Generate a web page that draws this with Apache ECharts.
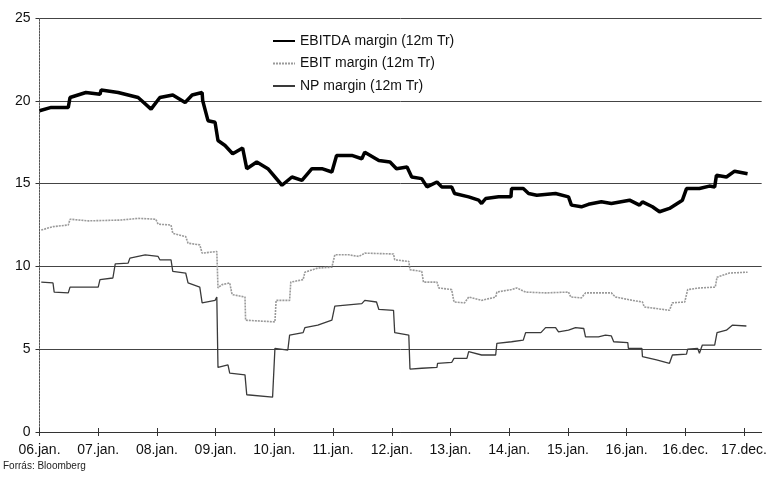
<!DOCTYPE html>
<html>
<head>
<meta charset="utf-8">
<script src="https://cdn.jsdelivr.net/npm/echarts@6/dist/echarts.min.js"></script>
<style>
html,body{margin:0;padding:0;background:#fff;}
#chart{width:770px;height:477px;}
</style>
</head>
<body>
<div id="chart"></div>
<script>
// x positions in years since 06.jan (tick spacing = 1)
const xLabels = ["06.jan.","07.jan.","08.jan.","09.jan.","10.jan.","11.jan.","12.jan.","13.jan.","14.jan.","15.jan.","16.jan.","16.dec.","17.dec."];
const yTicks = [0,5,10,15,20,25];
const seriesNames = ["EBITDA margin (12m Tr)","EBIT margin (12m Tr)","NP margin (12m Tr)"];

const ebitdaX = [0,0.20,0.49,0.52,0.79,1.03,1.05,1.34,1.68,1.90,2.05,2.27,2.48,2.60,2.77,2.78,2.87,2.99,3.04,3.16,3.29,3.46,3.53,3.70,3.89,4.13,4.30,4.47,4.64,4.81,4.98,5.01,5.06,5.32,5.49,5.54,5.78,5.97,6.08,6.26,6.34,6.51,6.60,6.77,6.85,7.02,7.07,7.31,7.48,7.53,7.60,7.82,8.03,8.04,8.24,8.33,8.47,8.79,9.01,9.06,9.23,9.35,9.57,9.74,10.05,10.22,10.27,10.44,10.56,10.73,10.95,11.02,11.24,11.41,11.50,11.53,11.70,11.84,12.06];
const ebitdaY = [19.4,19.6,19.6,20.2,20.5,20.4,20.65,20.5,20.2,19.5,20.2,20.35,19.9,20.35,20.5,20.0,18.8,18.7,17.6,17.3,16.8,17.15,15.9,16.3,15.9,14.9,15.4,15.2,15.9,15.9,15.7,15.6,16.7,16.7,16.5,16.9,16.4,16.3,15.9,16.0,15.4,15.3,14.8,15.1,14.8,14.8,14.4,14.2,14.0,13.8,14.1,14.2,14.2,14.7,14.7,14.4,14.3,14.4,14.2,13.7,13.6,13.75,13.9,13.8,14.0,13.7,13.9,13.6,13.3,13.5,14.0,14.7,14.7,14.85,14.8,15.5,15.4,15.75,15.6];

const ebitX = [0.03,0.23,0.49,0.52,0.83,1.39,1.68,1.98,2.02,2.24,2.27,2.49,2.53,2.73,2.77,3.02,3.04,3.11,3.24,3.28,3.50,3.51,4.01,4.03,4.26,4.28,4.49,4.52,4.74,4.98,5.03,5.27,5.44,5.54,6.03,6.05,6.29,6.31,6.51,6.54,6.77,6.80,7.02,7.06,7.24,7.31,7.53,7.77,7.79,8.04,8.13,8.28,8.62,9.01,9.05,9.23,9.30,9.74,9.81,10.10,10.27,10.30,10.73,10.78,10.99,11.04,11.24,11.51,11.54,11.75,12.06];
const ebitY = [12.2,12.4,12.5,12.85,12.75,12.8,12.9,12.85,12.55,12.5,12.0,11.8,11.4,11.3,10.8,10.9,8.7,8.9,9.0,8.3,8.15,6.75,6.65,7.95,7.95,9.05,9.2,9.65,9.9,9.95,10.7,10.7,10.6,10.8,10.75,10.4,10.3,9.8,9.7,9.05,9.05,8.7,8.6,7.85,7.8,8.15,7.95,8.15,8.45,8.6,8.7,8.45,8.4,8.45,8.15,8.1,8.4,8.4,8.15,7.95,7.85,7.55,7.35,7.8,7.85,8.6,8.7,8.75,9.35,9.6,9.65];

const npX = [0.03,0.23,0.25,0.49,0.52,1.00,1.03,1.25,1.29,1.51,1.54,1.80,2.02,2.05,2.24,2.27,2.49,2.53,2.73,2.77,2.99,3.02,3.04,3.21,3.24,3.50,3.53,3.97,4.01,4.23,4.26,4.49,4.52,4.74,4.98,5.03,5.49,5.54,5.74,5.78,6.03,6.05,6.29,6.31,6.51,6.77,6.78,7.02,7.06,7.28,7.31,7.53,7.77,7.79,8.04,8.24,8.28,8.54,8.62,8.79,8.84,9.01,9.13,9.27,9.30,9.52,9.64,9.74,9.78,10.02,10.03,10.26,10.27,10.51,10.73,10.78,11.02,11.04,11.21,11.24,11.29,11.50,11.54,11.70,11.80,12.04];
const npY = [9.05,9.0,8.45,8.4,8.75,8.75,9.2,9.3,10.15,10.2,10.5,10.7,10.6,10.4,10.4,9.7,9.6,9.0,8.75,7.8,7.95,8.15,3.9,4.05,3.55,3.45,2.25,2.1,5.05,4.95,5.85,6.0,6.3,6.45,6.75,7.6,7.75,7.95,7.85,7.4,7.35,6.0,5.85,3.8,3.85,3.9,4.15,4.2,4.45,4.45,4.85,4.65,4.65,5.35,5.45,5.55,6.0,6.0,6.3,6.3,6.05,6.15,6.3,6.25,5.75,5.75,5.85,5.8,5.45,5.4,5.05,5.05,4.55,4.35,4.15,4.65,4.7,5.0,5.05,4.75,5.25,5.25,6.0,6.15,6.45,6.4];

function pairs(xs, ys){ return xs.map((x,i)=>[x, ys[i]]); }
const tickVals = xLabels.map((_,i)=>i);

const FONT = "Liberation Sans, Arial, sans-serif";
const chart = echarts.init(document.getElementById('chart'), null, {renderer:'canvas'});
chart.setOption({
  backgroundColor:'#ffffff',
  animation:false,
  textStyle:{fontFamily:FONT},
  grid:{left:39.5, right:8, top:18, bottom:45, containLabel:false},
  legend:{
    orient:'vertical', left:267, top:29, itemWidth:22, itemHeight:14, itemGap:8.5,
    itemStyle:{opacity:0},
    textStyle:{fontFamily:FONT, fontSize:14, color:'#111'},
    data:seriesNames
  },
  graphic:[{type:'text', left:3, top:461, style:{text:'Forrás: Bloomberg', font:'10px '+FONT, fill:'#222'}}],
  xAxis:[{
    type:'value', min:0, max:12.3, position:'bottom',
    axisLine:{show:true, lineStyle:{color:'#333', width:1}},
    axisTick:{show:true, customValues:tickVals, length:4, lineStyle:{color:'#333'}},
    axisLabel:{customValues:tickVals, margin:11, fontSize:14, color:'#111', fontFamily:FONT,
      formatter:(v)=>xLabels[Math.round(v)]},
    splitLine:{show:false}
  },{
    type:'value', min:0, max:12.3, position:'bottom',
    axisLine:{show:false},
    axisTick:{show:true, inside:true, customValues:tickVals, length:4, lineStyle:{color:'#333'}},
    axisLabel:{show:false},
    splitLine:{show:false}
  }],
  yAxis:{
    type:'value', min:0, max:25, interval:5,
    axisLine:{show:true, lineStyle:{color:'#555', width:1, type:[2,1]}},
    axisTick:{show:true, length:4, lineStyle:{color:'#333'}},
    axisLabel:{fontSize:14, color:'#111', margin:9, fontFamily:FONT},
    splitLine:{show:true, lineStyle:{color:'#444', width:1}}
  },
  series:[
    {name:seriesNames[0], type:'line', data:pairs(ebitdaX, ebitdaY), symbol:'none', z:5,
      lineStyle:{color:'#000', width:3.5}, itemStyle:{color:'#000'}},
    {name:seriesNames[1], type:'line', data:pairs(ebitX, ebitY), symbol:'none', z:4,
      lineStyle:{color:'#9a9a9a', width:1.6, type:[2,1]}, itemStyle:{color:'#9a9a9a'}},
    {name:seriesNames[2], type:'line', data:pairs(npX, npY), symbol:'none', z:4,
      lineStyle:{color:'#3a3a3a', width:1.3}, itemStyle:{color:'#3a3a3a'}}
  ]
});
</script>
</body>
</html>
